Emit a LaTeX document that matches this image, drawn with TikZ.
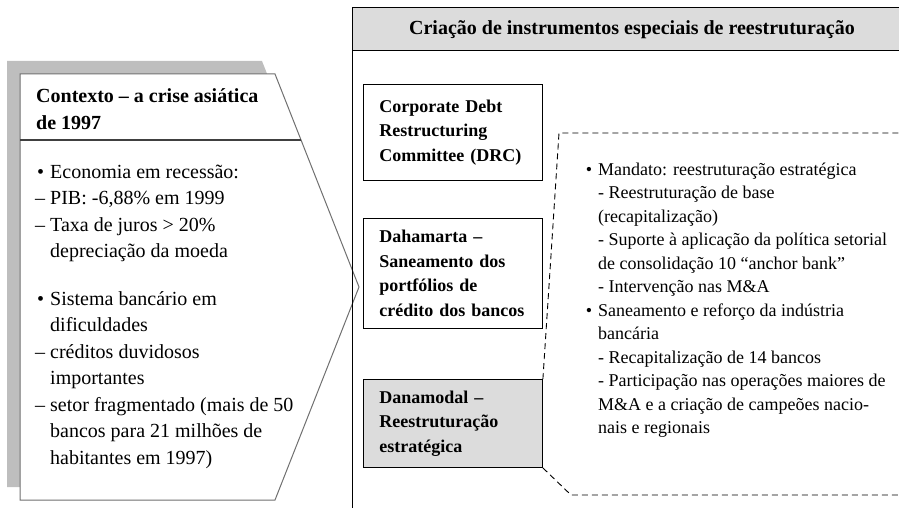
\documentclass[tikz,border=0pt]{standalone}
\usepackage{fontspec}
\setmainfont{Liberation Serif}
\newcommand{\puce}{\llap{\textbullet\hspace{6pt}}}
\newcommand{\tiret}{\llap{–\hspace{5pt}}}
\definecolor{cinza}{RGB}{220,220,220}
\definecolor{sombra}{RGB}{190,190,190}
\definecolor{contorno}{RGB}{112,112,112}

\begin{document}
\begin{tikzpicture}[x=1pt,y=-1pt]
 \tikzstyle{caixa}=[draw,line width=0.9pt,anchor=north west,text width=147pt,inner xsep=16pt,inner ysep=0pt,align=left,font=\fontsize{18}{24.5}\selectfont\bfseries]
 \tikzstyle{texto}=[anchor=base west,inner sep=0pt,align=left]
 \tikzstyle{tracado}=[line width=0.9pt,dash pattern=on 6pt off 4pt]
 \useasboundingbox (0,0) rectangle (899,508);
 \clip (0,0) rectangle (899,508);
 \fill[sombra] (7,61) -- (262,61) -- (346,274) -- (262,487) -- (7,487) -- cycle;
 \draw[contorno,fill=white,line width=1pt] (20,74) -- (275,74) -- (359,287) -- (275,500) -- (20,500) -- cycle;
 \draw[black!75,line width=1pt] (20,140) -- (301,140);
 \node[texto,font=\fontsize{20}{26}\selectfont\bfseries] (Ctx) at (36,129) {Contexto – a crise asiática\\de 1997};
 \node[texto,font=\fontsize{20}{26.5}\selectfont] (Lst) at (50,464) {\puce Economia em recessão:\\\tiret PIB: -6,88\% em 1999\\\tiret Taxa de juros > 20\%\\depreciação da moeda\\[21pt]\puce Sistema bancário em\\dificuldades\\\tiret créditos duvidosos\\importantes\\\tiret setor fragmentado (mais de 50\\bancos para 21 milhões de\\habitantes em 1997)};
 \fill[cinza] (352,7) rectangle (912,50);
 \draw[line width=0.9pt] (352,520) -- (352,7) -- (912,7);
 \draw[line width=0.9pt] (352,50) -- (912,50);
 \node[anchor=base,font=\fontsize{20}{24}\selectfont\bfseries] (Hd) at (632,35) {Criação de instrumentos especiais de reestruturação};
 \node[caixa,minimum height=96pt] (B1) at (363,84) {Corporate Debt\\Restructuring\\Committee (DRC)};
 \node[caixa,minimum height=110pt] (B2) at (363,218) {Dahamarta –\\Saneamento dos\\portfólios de\\crédito dos bancos};
 \node[caixa,minimum height=88pt,fill=cinza] (B3) at (363,379) {Danamodal –\\Reestruturação\\estratégica};
 \coordinate (T1) at (559,133);
 \coordinate (T2) at (905,133);
 \coordinate (U1) at (571,495);
 \coordinate (U2) at (905,495);
 \draw[tracado] (B3.north east) -- (T1) -- (T2);
 \draw[tracado] (B3.south east) -- (U1) -- (U2);
 \node[texto,font=\fontsize{18}{23.5}\selectfont] (Txt) at (598,433.5) {\puce Mandato: reestruturação estratégica\\- Reestruturação de base\\(recapitalização)\\- Suporte à aplicação da política setorial\\de consolidação 10 “anchor bank”\\- Intervenção nas M\&A\\\puce Saneamento e reforço da indústria\\bancária\\- Recapitalização de 14 bancos\\- Participação nas operações maiores de\\M\&A e a criação de campeões nacio-\\nais e regionais};
\end{tikzpicture}
\end{document}
